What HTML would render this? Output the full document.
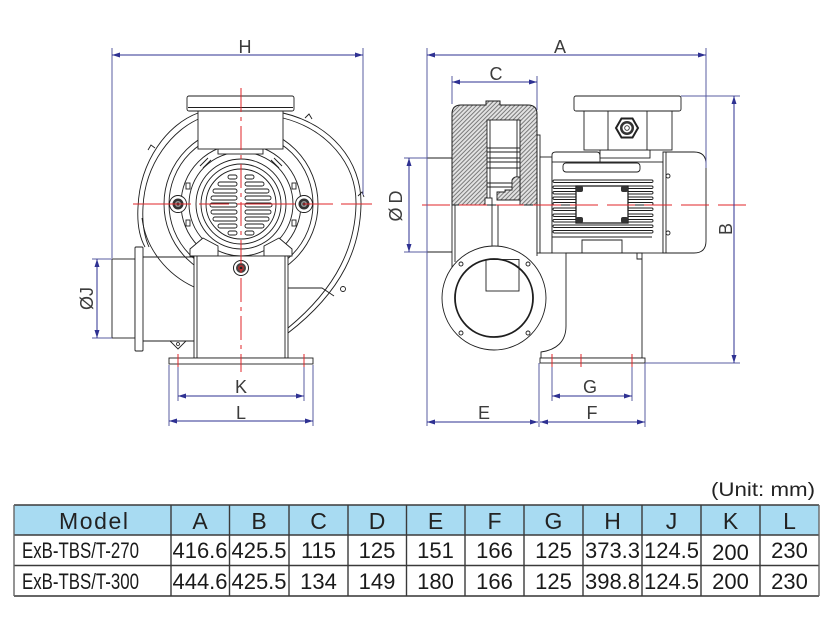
<!DOCTYPE html>
<html><head><meta charset="utf-8"><style>
html,body{margin:0;padding:0;background:#fff;}
svg{display:block;}
</style></head><body>
<svg width="833" height="617" viewBox="0 0 833 617" xmlns="http://www.w3.org/2000/svg" font-family="'Liberation Sans', Arial, sans-serif">
<defs>
<pattern id="hatch" width="3" height="3" patternUnits="userSpaceOnUse" patternTransform="rotate(45)">
<rect width="3" height="3" fill="#e2e2e2"/>
<line x1="0.5" y1="0" x2="0.5" y2="3" stroke="#7a7a7a" stroke-width="1"/>
</pattern>
<marker id="ar" viewBox="0 0 8 5" refX="8" refY="2.5" markerWidth="8" markerHeight="5" markerUnits="userSpaceOnUse" orient="auto-start-reverse">
<path d="M0,0 L8,2.5 L0,5 z" fill="#2e3192"/>
</marker>
</defs>
<rect width="833" height="617" fill="#fff"/>

<!-- ================= LEFT VIEW ================= -->
<g fill="none" stroke="#1e1e1e" stroke-width="0.9">
  <!-- scroll housing -->
  <path d="M198,113 C168,124 140,160 138,207 C137,224 140,238 145,247"/>
  <path d="M201,118 C173,129 145,163 143,207 C142,224 145,238 149,247"/>
  <path d="M283,113 C330,124 362,160 361,205 C360,246 344,290 288,333"/>
  <path d="M283,118 C326,129 357,163 356,205 C355,244 339,286 288,328"/>
  <path d="M142,218 C146,250 168,275 194,287"/>
  <path d="M288,288 L322,288 L334,296"/>
  <!-- small bumps -->
  <path d="M148,150 l3,-5 l4,3"/>
  <path d="M305,118 l4,-4 l3,5"/>
  <path d="M358,196 l4,-4 l2,5"/>
  <circle cx="343" cy="289" r="2.5"/>
  <!-- rings -->
  <circle cx="241" cy="204" r="77"/>
  <circle cx="241" cy="204" r="72"/>
  <circle cx="241" cy="204" r="60"/>
  <circle cx="241" cy="204" r="52"/>
  <circle cx="241" cy="204" r="45"/>
  <circle cx="241" cy="204" r="40"/>
  <circle cx="241" cy="204" r="35"/>
  <!-- tabs -->
  <rect x="186" y="183" width="4" height="6"/>
  <rect x="186" y="220" width="4" height="6"/>
  <rect x="292" y="183" width="4" height="6"/>
  <rect x="292" y="220" width="4" height="6"/>
  <path d="M200,166 l8,-8 M203,168 l8,-8"/>
  <path d="M282,166 l-8,-8 M279,168 l-8,-8"/>
  <!-- grill slots -->
  <g stroke-width="0.9">
    <rect x="228" y="175" width="9" height="4" rx="2"/><rect x="245" y="175" width="9" height="4" rx="2"/>
    <rect x="218" y="182" width="19" height="4" rx="2"/><rect x="245" y="182" width="19" height="4" rx="2"/>
    <rect x="213" y="189" width="24" height="4" rx="2"/><rect x="245" y="189" width="24" height="4" rx="2"/>
    <rect x="211" y="196" width="26" height="4" rx="2"/><rect x="245" y="196" width="26" height="4" rx="2"/>
    <rect x="210" y="203" width="27" height="4" rx="2"/><rect x="245" y="203" width="27" height="4" rx="2"/>
    <rect x="211" y="210" width="26" height="4" rx="2"/><rect x="245" y="210" width="26" height="4" rx="2"/>
    <rect x="213" y="217" width="24" height="4" rx="2"/><rect x="245" y="217" width="24" height="4" rx="2"/>
    <rect x="218" y="224" width="19" height="4" rx="2"/><rect x="245" y="224" width="19" height="4" rx="2"/>
    <rect x="228" y="231" width="9" height="4" rx="2"/><rect x="245" y="231" width="9" height="4" rx="2"/>
  </g>
  <!-- bosses -->
  <circle cx="178" cy="204" r="8.5" fill="#fff"/>
  <circle cx="304" cy="204" r="8.5" fill="#fff"/>
</g>
<g>
  <circle cx="178" cy="204" r="5.5" fill="#333"/><circle cx="178" cy="204" r="3" fill="#999"/><circle cx="178" cy="204" r="1.5" fill="#222"/>
  <circle cx="304" cy="204" r="5.5" fill="#333"/><circle cx="304" cy="204" r="3" fill="#999"/><circle cx="304" cy="204" r="1.5" fill="#222"/>
</g>
<g fill="#fff" stroke="#1e1e1e" stroke-width="0.9">
  <!-- outlet box + flange -->
  <rect x="218" y="149" width="45" height="5"/>
  <rect x="198" y="111" width="85" height="38"/>
  <rect x="187" y="96" width="107" height="15" rx="2"/>
  <line x1="188" y1="107.5" x2="293" y2="107.5"/>
  <!-- motor feet -->
  <polygon points="203,238 190,249 190,256 218,256 218,246"/>
  <polygon points="279,238 292,249 292,256 264,256 264,246"/>
  <!-- pedestal -->
  <rect x="194" y="256" width="94" height="102"/>
  <line x1="197" y1="256" x2="197" y2="358"/>
  <line x1="285" y1="256" x2="285" y2="358"/>
  <rect x="169" y="358" width="144" height="6"/>
  <!-- inlet pipe -->
  <rect x="112" y="259" width="23" height="79"/>
  <rect x="135" y="247" width="8" height="104" rx="1"/>
  <line x1="143" y1="257" x2="194" y2="257"/>
  <line x1="143" y1="341" x2="194" y2="341"/>
  <polygon points="170,341 186,341 178,349"/>
</g>
<circle cx="178" cy="344" r="1.5" fill="none" stroke="#1e1e1e" stroke-width="0.8"/>
<!-- pedestal bolt -->
<circle cx="241" cy="268" r="7.5" fill="#fff" stroke="#1e1e1e" stroke-width="1"/>
<circle cx="241" cy="268" r="5" fill="#444"/>
<circle cx="241" cy="268" r="3" fill="#a33"/>
<circle cx="241" cy="268" r="1.3" fill="#222"/>

<!-- left centerlines -->
<g stroke="#e0262a" stroke-width="1" fill="none">
  <line x1="241" y1="88" x2="241" y2="372" stroke-dasharray="24 5 4 5"/>
  <line x1="133" y1="204" x2="372" y2="204" stroke-dasharray="58 8 30 8"/>
  <line x1="178" y1="354" x2="178" y2="367"/>
  <line x1="304" y1="354" x2="304" y2="367"/>
</g>

<!-- left dimensions -->
<g stroke="#2e3192" stroke-width="1" fill="none">
  <line x1="112" y1="48" x2="112" y2="258" stroke="#5a5ca0"/>
  <line x1="363" y1="48" x2="363" y2="195" stroke="#5a5ca0"/>
  <line x1="112" y1="55" x2="363" y2="55" marker-start="url(#ar)" marker-end="url(#ar)"/>
  <line x1="92" y1="259" x2="112" y2="259" stroke="#5a5ca0"/>
  <line x1="92" y1="338" x2="112" y2="338" stroke="#5a5ca0"/>
  <line x1="97" y1="259" x2="97" y2="338" marker-start="url(#ar)" marker-end="url(#ar)"/>
  <line x1="178" y1="367" x2="178" y2="401" stroke="#5a5ca0"/>
  <line x1="304" y1="367" x2="304" y2="401" stroke="#5a5ca0"/>
  <line x1="178" y1="396" x2="304" y2="396" marker-start="url(#ar)" marker-end="url(#ar)"/>
  <line x1="169" y1="365" x2="169" y2="426" stroke="#5a5ca0"/>
  <line x1="313" y1="365" x2="313" y2="426" stroke="#5a5ca0"/>
  <line x1="169" y1="421" x2="313" y2="421" marker-start="url(#ar)" marker-end="url(#ar)"/>
</g>
<g fill="#3c3c3c" font-size="18" text-anchor="middle">
  <text x="245" y="53">H</text>
  <text x="241" y="393">K</text>
  <text x="241" y="419">L</text>
  <text transform="translate(93,298.5) rotate(-90)" textLength="23">ØJ</text>
</g>

<!-- ================= RIGHT VIEW ================= -->
<g fill="none" stroke="#1e1e1e" stroke-width="0.9">
  <!-- pipe -->
  <line x1="427" y1="158" x2="452" y2="158"/>
  <line x1="427" y1="252" x2="452" y2="252"/>
  <!-- lower housing -->
  <line x1="452" y1="205" x2="452" y2="268"/>
  <line x1="455" y1="205" x2="455" y2="262"/>
  <line x1="537" y1="205" x2="537" y2="256"/>
  <rect x="537" y="135" width="3" height="118" fill="#fff"/>
  <line x1="492" y1="205" x2="492" y2="247"/>
  <line x1="498" y1="205" x2="498" y2="247"/>
</g>
<!-- hatched section -->
<path d="M452,205 L452,114 Q452,105 461,105 L486,105 L486,101 L500,101 L500,105 L528,105 Q537,105 537,114 L537,205 Z" fill="url(#hatch)" stroke="#1e1e1e" stroke-width="1"/>
<g fill="#fff" stroke="#1e1e1e" stroke-width="0.9">
  <rect x="487" y="120" width="33" height="85"/>
</g>
<g stroke="#1e1e1e" stroke-width="0.9" fill="none">
  <line x1="490" y1="120" x2="490" y2="205"/>
  <line x1="517" y1="120" x2="517" y2="178"/>
  <line x1="487" y1="148" x2="520" y2="148"/>
  <line x1="487" y1="152" x2="520" y2="152"/>
  <line x1="487" y1="158" x2="520" y2="158"/>
  <line x1="487" y1="162" x2="520" y2="162"/>
  <line x1="487" y1="168" x2="520" y2="168"/>
  <line x1="487" y1="183" x2="512" y2="183"/>
  <line x1="487" y1="187" x2="512" y2="187"/>
</g>
<path d="M512,190 L512,180 Q514,176 518,177 L520,177 L520,200 L497,200 L497,192 L505,192 L505,190 Z" fill="url(#hatch)" stroke="#1e1e1e" stroke-width="0.9"/>
<rect x="485" y="198" width="7" height="7" fill="#fff" stroke="#1e1e1e" stroke-width="0.9"/>
<line x1="452" y1="205" x2="600" y2="205" stroke="#1e1e1e" stroke-width="1"/>

<!-- motor -->
<g fill="#fff" stroke="#1e1e1e" stroke-width="0.9">
  <rect x="540" y="157" width="12" height="96"/>
  <path d="M552,162 L552,155 Q552,152 556,152 L597,152 Q600,152 600,156 L600,162"/>
  <rect x="552" y="162" width="111" height="91"/>
  <rect x="563" y="163" width="77" height="9" rx="3"/>
  <rect x="553" y="180" width="100" height="2.5" rx="1.2"/>
  <rect x="553" y="186" width="100" height="2.5" rx="1.2"/>
  <rect x="553" y="191.5" width="100" height="2.5" rx="1.2"/>
  <rect x="553" y="197" width="100" height="2.5" rx="1.2"/>
  <rect x="553" y="202.5" width="100" height="2.5" rx="1.2"/>
  <rect x="553" y="208" width="100" height="2.5" rx="1.2"/>
  <rect x="553" y="214" width="100" height="2.5" rx="1.2"/>
  <rect x="553" y="219.5" width="100" height="2.5" rx="1.2"/>
  <rect x="553" y="225" width="100" height="2.5" rx="1.2"/>
  <rect x="553" y="230.5" width="100" height="2.5" rx="1.2"/>
  <rect x="576" y="186" width="52" height="37" stroke-width="1.3"/>
  <line x1="552" y1="237" x2="652" y2="237"/>
  <path d="M582,253 L582,240 L622,240 L622,253"/>
  <path d="M663,152 L694,152 Q706,152 706,164 L706,241 Q706,253 694,253 L663,253 Z"/>
  <line x1="666" y1="152" x2="666" y2="253"/>
  <!-- junction box -->
  <rect x="600" y="150" width="50" height="8"/>
  <rect x="584" y="111" width="88" height="39"/>
  <line x1="608" y1="111" x2="608" y2="150"/>
  <line x1="647" y1="111" x2="647" y2="150"/>
  <rect x="574" y="96" width="107" height="15" rx="2"/>
</g>
<g fill="#333">
  <rect x="576" y="186" width="7" height="6" rx="2"/><rect x="621" y="186" width="7" height="6" rx="2"/>
  <rect x="576" y="217" width="7" height="6" rx="2"/><rect x="621" y="217" width="7" height="6" rx="2"/>
</g>
<circle cx="668" cy="176" r="2" fill="none" stroke="#1e1e1e" stroke-width="0.9"/>
<circle cx="668" cy="233" r="2" fill="none" stroke="#1e1e1e" stroke-width="0.9"/>
<!-- gland -->
<polygon points="638,128 632.5,137.5 621.5,137.5 616,128 621.5,118.5 632.5,118.5" fill="#fff" stroke="#222" stroke-width="2"/>
<circle cx="627" cy="128" r="7" fill="#333"/>
<circle cx="627" cy="128" r="4.5" fill="#fff"/>
<circle cx="627" cy="128" r="2.3" fill="none" stroke="#333" stroke-width="0.9"/>

<!-- stand -->
<g fill="#fff" stroke="#1e1e1e" stroke-width="0.9">
  <path d="M566,253 L566,326 C566,342 556,350 541,352 L541,358 L642,358 L642,253 Z"/>
  <path d="M637,253 L637,259 L642,259" fill="none"/>
  <rect x="540" y="358" width="105" height="5"/>
</g>
<!-- circle flange -->
<g stroke="#1e1e1e" stroke-width="0.9">
  <circle cx="494" cy="298" r="52" fill="#fff"/>
  <circle cx="494" cy="298" r="39" fill="#fff" stroke-width="1.8"/>
  <rect x="486" y="259.5" width="33" height="31.5" fill="none"/>
  <circle cx="461" cy="264" r="2" fill="none"/>
  <circle cx="528" cy="264" r="2" fill="none"/>
  <circle cx="461" cy="333" r="2" fill="none"/>
  <circle cx="528" cy="333" r="2" fill="none"/>
</g>

<!-- right centerlines -->
<g stroke="#e0262a" stroke-width="1" fill="none">
  <line x1="422" y1="205" x2="752" y2="205" stroke-dasharray="28 9"/>
  <line x1="552" y1="354" x2="552" y2="367"/>
  <line x1="581" y1="354" x2="581" y2="367"/>
  <line x1="632" y1="354" x2="632" y2="367"/>
</g>

<!-- right dimensions -->
<g stroke="#2e3192" stroke-width="1" fill="none">
  <line x1="427" y1="48" x2="427" y2="426" stroke="#5a5ca0"/>
  <line x1="706" y1="48" x2="706" y2="168" stroke="#5a5ca0"/>
  <line x1="427" y1="55" x2="706" y2="55" marker-start="url(#ar)" marker-end="url(#ar)"/>
  <line x1="452" y1="76" x2="452" y2="104" stroke="#5a5ca0"/>
  <line x1="537" y1="76" x2="537" y2="110" stroke="#5a5ca0"/>
  <line x1="452" y1="82" x2="537" y2="82" marker-start="url(#ar)" marker-end="url(#ar)"/>
  <line x1="404" y1="158" x2="427" y2="158" stroke="#5a5ca0"/>
  <line x1="404" y1="252" x2="427" y2="252" stroke="#5a5ca0"/>
  <line x1="409" y1="158" x2="409" y2="252" marker-start="url(#ar)" marker-end="url(#ar)"/>
  <line x1="681" y1="96" x2="740" y2="96" stroke="#5a5ca0"/>
  <line x1="645" y1="363" x2="740" y2="363" stroke="#5a5ca0"/>
  <line x1="734" y1="96" x2="734" y2="363" marker-start="url(#ar)" marker-end="url(#ar)"/>
  <line x1="552" y1="367" x2="552" y2="401" stroke="#5a5ca0"/>
  <line x1="632" y1="367" x2="632" y2="401" stroke="#5a5ca0"/>
  <line x1="552" y1="396" x2="632" y2="396" marker-start="url(#ar)" marker-end="url(#ar)"/>
  <line x1="539" y1="363" x2="539" y2="427" stroke="#5a5ca0"/>
  <line x1="645" y1="363" x2="645" y2="427" stroke="#5a5ca0"/>
  <line x1="427" y1="422" x2="538" y2="422" marker-start="url(#ar)" marker-end="url(#ar)"/>
  <line x1="540" y1="422" x2="645" y2="422" marker-start="url(#ar)" marker-end="url(#ar)"/>
</g>
<g fill="#3c3c3c" font-size="18" text-anchor="middle">
  <text x="560" y="53">A</text>
  <text x="496" y="80">C</text>
  <text x="590" y="393">G</text>
  <text x="484" y="419">E</text>
  <text x="592" y="419">F</text>
  <text transform="translate(402,206) rotate(-90)" textLength="31">ØD</text>
  <text transform="translate(732,229) rotate(-90)">B</text>
</g>

<!-- ================= TABLE ================= -->
<text x="815" y="496" font-size="19" fill="#222" text-anchor="end" textLength="104" lengthAdjust="spacingAndGlyphs">(Unit: mm)</text>
<rect x="14" y="505" width="805" height="30" fill="#a8dbf2"/>
<g stroke="#3a3a3a" stroke-width="1.4">
  <line x1="14" y1="505" x2="819" y2="505"/>
  <line x1="14" y1="535" x2="819" y2="535"/>
  <line x1="14" y1="565.5" x2="819" y2="565.5"/>
  <line x1="14" y1="596" x2="819" y2="596" stroke="#666" stroke-width="2"/>
  <line x1="14" y1="505" x2="14" y2="596" stroke="#666"/>
  <line x1="171" y1="505" x2="171" y2="596"/>
  <line x1="229.5" y1="505" x2="229.5" y2="596"/>
  <line x1="289" y1="505" x2="289" y2="596"/>
  <line x1="348" y1="505" x2="348" y2="596"/>
  <line x1="406.5" y1="505" x2="406.5" y2="596"/>
  <line x1="465" y1="505" x2="465" y2="596"/>
  <line x1="524" y1="505" x2="524" y2="596"/>
  <line x1="583" y1="505" x2="583" y2="596"/>
  <line x1="642" y1="505" x2="642" y2="596"/>
  <line x1="701" y1="505" x2="701" y2="596"/>
  <line x1="760" y1="505" x2="760" y2="596"/>
  <line x1="819" y1="505" x2="819" y2="596" stroke="#666"/>
</g>
<g font-size="23" fill="#222" text-anchor="middle">
  <text x="93.5" y="529" textLength="69" lengthAdjust="spacing">Model</text>
  <text x="200" y="529">A</text>
  <text x="259" y="529">B</text>
  <text x="318.5" y="529">C</text>
  <text x="377" y="529">D</text>
  <text x="435.5" y="529">E</text>
  <text x="494.5" y="529">F</text>
  <text x="553.5" y="529">G</text>
  <text x="612.5" y="529">H</text>
  <text x="671.5" y="529">J</text>
  <text x="730.5" y="529">K</text>
  <text x="789.5" y="529">L</text>
</g>
<g font-size="22" fill="#1a1a1a">
  <text x="22" y="558" textLength="117" lengthAdjust="spacingAndGlyphs">ExB-TBS/T-270</text>
  <text x="22" y="589" textLength="117" lengthAdjust="spacingAndGlyphs">ExB-TBS/T-300</text>
</g>
<g font-size="22" fill="#1a1a1a" text-anchor="middle">
  <text x="200" y="558">416.6</text>
  <text x="259" y="558">425.5</text>
  <text x="318.5" y="558">115</text>
  <text x="377" y="558">125</text>
  <text x="435.5" y="558">151</text>
  <text x="494.5" y="558">166</text>
  <text x="553.5" y="558">125</text>
  <text x="612.5" y="558">373.3</text>
  <text x="671.5" y="558">124.5</text>
  <text x="730.5" y="560">200</text>
  <text x="789.5" y="558">230</text>
  <text x="200" y="589">444.6</text>
  <text x="259" y="589">425.5</text>
  <text x="318.5" y="589">134</text>
  <text x="377" y="589">149</text>
  <text x="435.5" y="589">180</text>
  <text x="494.5" y="589">166</text>
  <text x="553.5" y="589">125</text>
  <text x="612.5" y="589">398.8</text>
  <text x="671.5" y="589">124.5</text>
  <text x="730.5" y="589">200</text>
  <text x="789.5" y="589">230</text>
</g>
</svg>
</body></html>
